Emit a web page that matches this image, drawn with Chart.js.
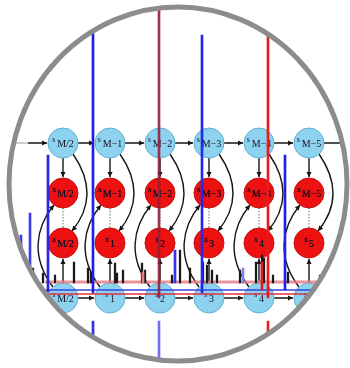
<!DOCTYPE html>
<html>
<head>
<meta charset="utf-8">
<script src="https://cdn.jsdelivr.net/npm/chart.js@4"></script>
<style>
  body { margin: 0; background: #fff; }
  #wrap { position: relative; width: 350px; height: 368px; }
</style>
</head>
<body>
<div id="wrap"><canvas id="chart"></canvas></div>
<script>
// node grid (x of each column, y of each row)
const colX = [63, 110, 160, 209, 259, 309];
const rowTop = 143, rowHidA = 193, rowHidB = 243, rowBottom = 298;

// node labels
const topLabels = ["M/2", "M\u22121", "M\u22122", "M\u22123", "M\u22124", "M\u22125"];
const midLabels = ["M/2", "M\u22121", "M\u22122", "M\u22123", "M\u22124", "M\u22125"];
const lowLabels = ["M/2", "1", "2", "3", "4", "5"];
const botLabels = ["M/2", "1", "2", "3", "4", "5"];

// spectrum peaks: position, top, bottom
const blueX      = [21, 30, 48, 93, 93, 159, 175, 202, 243, 285];
const blueTop    = [235, 213, 155, 33, 321, 321, 250, 35, 268, 155];
const blueBottom = [285, 290, 292, 293, 337, 362, 283, 293, 283, 290];

const redX       = [159, 268, 268, 262, 143];
const redTop     = [10, 33, 321, 262, 272];
const redBottom  = [298, 298, 337, 290, 283];

const blackX   = [33, 43, 55, 74, 88, 91, 115, 117, 123, 142, 145, 172, 180, 190, 203, 207, 212, 217, 240, 256, 262, 264, 273, 288, 320, 330];
const blackTop = [268, 273, 275, 262, 268, 272, 263, 273, 270, 263, 270, 275, 250, 268, 262, 265, 270, 275, 270, 262, 255, 258, 275, 272, 275, 278];
const baseY = 283;

// baselines of the spectra
const pinkBase = 282, blueBase = 290, redBase = 294;
const baseFrom = 45, baseTo = 332;

const peaks = (xs, tops, bots) => xs.map((x, i) => ({ x: x, y: [tops[i], bots[i]] }));

const ctxEl = document.getElementById("chart");

// arrows of the graphical model, drawn under the nodes
function arrowHead(ctx, x, y, ang) {
    const L = 5, W = 2.6;
    ctx.beginPath();
    ctx.moveTo(x, y);
    ctx.lineTo(x - L * Math.cos(ang) + W * Math.sin(ang), y - L * Math.sin(ang) - W * Math.cos(ang));
    ctx.lineTo(x - L * Math.cos(ang) - W * Math.sin(ang), y - L * Math.sin(ang) + W * Math.cos(ang));
    ctx.closePath();
    ctx.fill();
}
function arrow(ctx, x1, y1, x2, y2) {
    ctx.beginPath();
    ctx.moveTo(x1, y1);
    ctx.lineTo(x2, y2);
    ctx.stroke();
    arrowHead(ctx, x2, y2, Math.atan2(y2 - y1, x2 - x1));
}
function curve(ctx, p0, c1, c2, p1) {
    ctx.beginPath();
    ctx.moveTo(p0[0], p0[1]);
    ctx.bezierCurveTo(c1[0], c1[1], c2[0], c2[1], p1[0], p1[1]);
    ctx.stroke();
    arrowHead(ctx, p1[0], p1[1], Math.atan2(p1[1] - c2[1], p1[0] - c2[0]));
}

const framePlugin = {
    id: "frame",
    beforeDatasetsDraw(chart) {
        const ctx = chart.ctx;
        const xs = chart.scales.x, ys = chart.scales.y;
        const cx = xs.getPixelForValue(178), cy = ys.getPixelForValue(184);
        ctx.save();
        ctx.beginPath();
        ctx.ellipse(cx, cy, 169, 177, 0, 0, Math.PI * 2);
        ctx.clip();

        const R = 15;
        const yT = ys.getPixelForValue(rowTop), yA = ys.getPixelForValue(rowHidA);
        const yB = ys.getPixelForValue(rowHidB), yS = ys.getPixelForValue(rowBottom);
        ctx.strokeStyle = "#151515";
        ctx.fillStyle = "#151515";
        ctx.lineWidth = 1.4;

        // chains
        const px = colX.map(v => xs.getPixelForValue(v));
        ctx.strokeStyle = "#bbb";
        ctx.beginPath(); ctx.moveTo(12, yT); ctx.lineTo(28, yT); ctx.stroke();
        ctx.strokeStyle = "#151515";
        arrow(ctx, 28, yT, px[0] - R - 1, yT);
        arrow(ctx, 20, yS, px[0] - R - 1, yS);
        for (let i = 0; i < px.length; i++) {
            const nx = i < px.length - 1 ? px[i + 1] - R - 1 : 345;
            arrow(ctx, px[i] + R, yT, nx, yT);
            arrow(ctx, px[i] + R, yS, nx, yS);
        }
        px.forEach(x => {
            arrow(ctx, x, yT + R, x, yA - R - 1);
            arrow(ctx, x, yS - R, x, yB + R + 1);
            ctx.save();
            ctx.strokeStyle = "#999";
            ctx.setLineDash([1.5, 1.5]);
            ctx.beginPath(); ctx.moveTo(x, yA + R); ctx.lineTo(x, yB - R); ctx.stroke();
            ctx.restore();
            curve(ctx, [x + 10, yT + 11], [x + 30, yT + 40], [x + 28, yB - 35], [x + 9, yB - 12]);
            curve(ctx, [x - 10, yS - 11], [x - 32, yS - 40], [x - 28, yA + 35], [x - 9, yA + 12]);
        });
    },
    afterDatasetsDraw(chart) {
        const ctx = chart.ctx;
        ctx.restore();
        const xs = chart.scales.x, ys = chart.scales.y;
        ctx.save();
        ctx.strokeStyle = "#8c8c8c";
        ctx.lineWidth = 5;
        ctx.beginPath();
        ctx.ellipse(xs.getPixelForValue(178), ys.getPixelForValue(184), 169, 177, 0, 0, Math.PI * 2);
        ctx.stroke();
        ctx.restore();
    },
    afterDatasetDraw(chart, args) {
        if (args.meta.label !== "nodes") return;
        const ctx = chart.ctx;
        const xs = chart.scales.x, ys = chart.scales.y;
        const rows = [[rowTop, "s", topLabels], [rowHidA, "x", midLabels], [rowHidB, "x", lowLabels], [rowBottom, "s", botLabels]];
        ctx.save();
        ctx.fillStyle = "#1a1020";
        ctx.textBaseline = "middle";
        ctx.textAlign = "left";
        rows.forEach(([ry, sym, labs]) => {
            const y = ys.getPixelForValue(ry);
            colX.forEach((cx, i) => {
                const x = xs.getPixelForValue(cx);
                const sub = labs[i];
                ctx.font = "10px 'Liberation Serif'";
                const w = ctx.measureText(sub).width;
                const x0 = x - (w + 5) / 2;
                ctx.font = "8px 'Liberation Serif'";
                ctx.fillText(sym, x0, y - 3);
                ctx.font = "10px 'Liberation Serif'";
                ctx.fillText(sub, x0 + 5, y + 1);
            });
        });
        ctx.restore();
    }
};

const hiddenPts = colX.map(x => ({ x: x, y: rowTop })).concat(colX.map(x => ({ x: x, y: rowBottom })));
const observedPts = colX.map(x => ({ x: x, y: rowHidA })).concat(colX.map(x => ({ x: x, y: rowHidB })));

new Chart(ctxEl, {
    type: "scatter",
    data: {
        datasets: [
            {
                type: "bar", label: "black", data: peaks(blackX, blackTop, blackX.map(() => baseY)),
                backgroundColor: "#1a1a1a", barThickness: 1.6, grouped: false, order: 2
            },
            {
                type: "line", label: "pink", data: [{ x: baseFrom, y: pinkBase }, { x: baseTo, y: pinkBase }],
                borderColor: "rgba(230,120,130,0.8)", borderWidth: 3, pointRadius: 0, order: 2
            },
            {
                type: "line", label: "blueBase", data: [{ x: baseFrom, y: blueBase }, { x: baseTo, y: blueBase }],
                borderColor: "#3344dd", borderWidth: 1.6, pointRadius: 0, order: 1
            },
            {
                type: "line", label: "redBase", data: [{ x: baseFrom, y: redBase }, { x: baseTo, y: redBase }],
                borderColor: "#e03040", borderWidth: 1.4, pointRadius: 0, order: 1
            },
            {
                type: "bar", label: "blue", data: peaks(blueX, blueTop, blueBottom),
                backgroundColor: ["#3b3bea", "#3b3bea", "#2626e6", "#2020e0", "#3030ee", "#7070f2", "#3535e6", "#2828e2", "#8080f0", "#2222dd"],
                barThickness: 2, grouped: false, order: 0
            },
            {
                type: "bar", label: "red", data: peaks(redX, redTop, redBottom),
                backgroundColor: ["rgba(150,30,60,0.9)", "#ee1a1a", "#ee2020", "#dd1a1a", "#f08080"],
                barThickness: 2, grouped: false, order: 0
            },
            {
                label: "nodes", data: hiddenPts,
                pointRadius: 15, pointBackgroundColor: "#8dd3f0", pointBorderColor: "#5fb0d0", pointBorderWidth: 1,
                order: 3
            },
            {
                label: "nodes", data: observedPts,
                pointRadius: 15, pointBackgroundColor: "#ee1111", pointBorderColor: "#c21010", pointBorderWidth: 1,
                order: 3
            }
        ]
    },
    options: {
        responsive: true,
        maintainAspectRatio: false,
        animation: false,
        layout: { padding: 0, autoPadding: false },
        plugins: { legend: { display: false }, tooltip: { enabled: false } },
        scales: {
            x: { type: "linear", min: 0, max: 350, display: false, offset: false },
            y: { type: "linear", min: 0, max: 368, reverse: true, display: false }
        }
    },
    plugins: [framePlugin]
});
</script>
</body>
</html>
